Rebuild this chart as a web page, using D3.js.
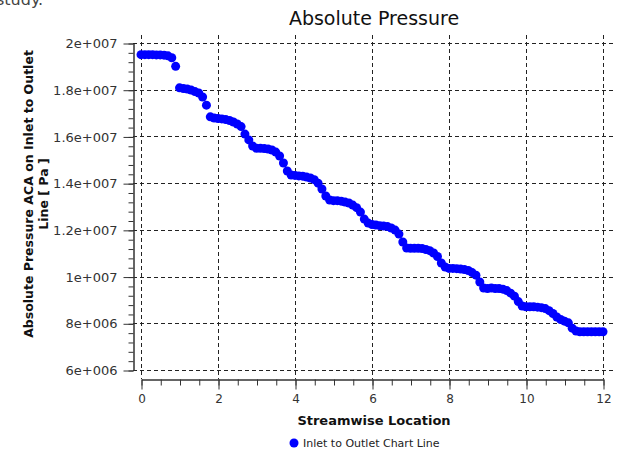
<!DOCTYPE html>
<html><head><meta charset="utf-8">
<script src="https://cdn.jsdelivr.net/npm/d3@7"></script>
<style>html,body{margin:0;padding:0;background:#fff;}svg{display:block;}</style>
</head><body>
<svg id="chart" width="617" height="452"></svg>
<script>
// ---- data ----
const location_ = [0.0,0.1,0.2,0.3,0.4,0.5,0.6,0.7,0.8,0.9,
  1.0,1.1,1.2,1.3,1.4,1.5,1.6,1.7,1.8,1.9,
  2.0,2.1,2.2,2.3,2.4,2.5,2.6,2.7,2.8,2.9,
  3.0,3.1,3.2,3.3,3.4,3.5,3.6,3.7,3.8,3.9,
  4.0,4.1,4.2,4.3,4.4,4.5,4.6,4.7,4.8,4.9,
  5.0,5.1,5.2,5.3,5.4,5.5,5.6,5.7,5.8,5.9,
  6.0,6.1,6.2,6.3,6.4,6.5,6.6,6.7,6.8,6.9,
  7.0,7.1,7.2,7.3,7.4,7.5,7.6,7.7,7.8,7.9,
  8.0,8.1,8.2,8.3,8.4,8.5,8.6,8.7,8.8,8.9,
  9.0,9.1,9.2,9.3,9.4,9.5,9.6,9.7,9.8,9.9,
  10.0,10.1,10.2,10.3,10.4,10.5,10.6,10.7,10.8,10.9,
  11.0,11.1,11.2,11.3,11.4,11.5,11.6,11.7,11.8,11.9,12.0];
const pressure = [1.950e7,1.950e7,1.950e7,1.950e7,1.949e7,1.949e7,1.948e7,1.945e7,1.937e7,1.900e7,
  1.808e7,1.805e7,1.803e7,1.799e7,1.792e7,1.786e7,1.769e7,1.734e7,1.684e7,1.679e7,
  1.677e7,1.675e7,1.672e7,1.668e7,1.662e7,1.653e7,1.642e7,1.610e7,1.585e7,1.559e7,
  1.549e7,1.549e7,1.548e7,1.546e7,1.542e7,1.533e7,1.516e7,1.486e7,1.452e7,1.435e7,
  1.433e7,1.431e7,1.430e7,1.426e7,1.422e7,1.415e7,1.400e7,1.375e7,1.345e7,1.328e7,
  1.325e7,1.325e7,1.323e7,1.319e7,1.315e7,1.306e7,1.295e7,1.276e7,1.246e7,1.229e7,
  1.223e7,1.221e7,1.218e7,1.216e7,1.214e7,1.208e7,1.199e7,1.182e7,1.148e7,1.122e7,
  1.121e7,1.121e7,1.121e7,1.120e7,1.116e7,1.111e7,1.101e7,1.086e7,1.058e7,1.041e7,
  1.035e7,1.035e7,1.034e7,1.032e7,1.030e7,1.026e7,1.017e7,1.006e7,0.977e7,0.951e7,
  0.949e7,0.951e7,0.949e7,0.949e7,0.946e7,0.940e7,0.929e7,0.916e7,0.893e7,0.874e7,
  0.871e7,0.871e7,0.871e7,0.869e7,0.867e7,0.863e7,0.854e7,0.842e7,0.827e7,0.816e7,
  0.809e7,0.802e7,0.779e7,0.767e7,0.764e7,0.764e7,0.764e7,0.764e7,0.764e7,0.764e7,0.764e7];
const xTicks = [0,2,4,6,8,10,12];
const xTickLabels = ["0","2","4","6","8","10","12"];
const yTicks = [6e6,8e6,1e7,1.2e7,1.4e7,1.6e7,1.8e7,2e7];
const yTickLabels = ["6e+006","8e+006","1e+007","1.2e+007","1.4e+007","1.6e+007","1.8e+007","2e+007"];
const titleText = "Absolute Pressure";
const xTitle = "Streamwise Location";
const yTitleLines = ["Absolute Pressure ACA on Inlet to Outlet","Line [ Pa ]"];
const seriesName = "Inlet to Outlet Chart Line";

// ---- layout ----
const svg = d3.select("#chart");
const font = "DejaVu Sans, Verdana, sans-serif";
const x = d3.scaleLinear().domain([0,12]).range([141,603]);
const y = d3.scaleLinear().domain([6e6,2e7]).range([370,43]);
const yAxisX = 133, xAxisY = 379;
const gridRight = 613, gridTop = 35;

// clipped text from page above
svg.append("text").attr("x",-4).attr("y",5).attr("font-family",font)
  .attr("font-size",16).attr("fill","#444").text("study.");

// title
svg.append("text").attr("x",374).attr("y",25).attr("text-anchor","middle")
  .attr("font-family",font).attr("font-size",19).attr("fill","#111").text(titleText);

// grid
const grid = svg.append("g").attr("stroke","#222").attr("stroke-width",1).attr("stroke-dasharray","4,3");
grid.selectAll("line.h").data(yTicks).join("line").attr("class","h")
  .attr("x1",yAxisX).attr("x2",gridRight)
  .attr("y1",d=>Math.round(y(d))+0.5).attr("y2",d=>Math.round(y(d))+0.5);
grid.selectAll("line.v").data(xTicks).join("line").attr("class","v")
  .attr("x1",d=>Math.round(x(d))+0.5).attr("x2",d=>Math.round(x(d))+0.5)
  .attr("y1",gridTop).attr("y2",xAxisY);

// y axis minor + major
const yMinor = d3.range(6e6, 2e7+1, 4e5);
svg.append("g").attr("transform",`translate(${yAxisX+0.5},0.5)`)
  .call(d3.axisLeft(y).tickValues(yMinor).tickSize(5).tickSizeOuter(0).tickFormat(""))
  .call(g=>g.selectAll("line,path").attr("stroke","#333"));
const yAx = svg.append("g").attr("transform",`translate(${yAxisX+0.5},0.5)`)
  .call(d3.axisLeft(y).tickValues(yTicks).tickSize(10).tickSizeOuter(0)
    .tickFormat((d,i)=>yTickLabels[i]).tickPadding(6));
yAx.selectAll("line,path").attr("stroke","#333");
yAx.selectAll("text").attr("font-family",font).attr("font-size",13).attr("fill","#333");

// x axis minor + major
const xMinor = d3.range(0, 12.01, 0.5);
svg.append("g").attr("transform",`translate(0.5,${xAxisY+0.5})`)
  .call(d3.axisBottom(x).tickValues(xMinor).tickSize(6).tickSizeOuter(0).tickFormat(""))
  .call(g=>g.selectAll("line,path").attr("stroke","#333"));
const xAx = svg.append("g").attr("transform",`translate(0.5,${xAxisY+0.5})`)
  .call(d3.axisBottom(x).tickValues(xTicks).tickSize(10).tickSizeOuter(0)
    .tickFormat((d,i)=>xTickLabels[i]).tickPadding(5));
xAx.selectAll("line,path").attr("stroke","#333");
xAx.selectAll("text").attr("font-family",font).attr("font-size",12).attr("fill","#333");

// axis titles
svg.append("text").attr("x",374).attr("y",425).attr("text-anchor","middle")
  .attr("font-family",font).attr("font-size",13).attr("font-weight","bold").attr("fill","#111").text(xTitle);
const yt = svg.append("text").attr("transform","translate(33,194) rotate(-90)")
  .attr("text-anchor","middle").attr("font-family",font).attr("font-size",12.5)
  .attr("font-weight","bold").attr("fill","#111");
yt.append("tspan").attr("x",0).attr("y",0).text(yTitleLines[0]);
yt.append("tspan").attr("x",0).attr("y",14.5).text(yTitleLines[1]);

// points
const pts = location_.map((d,i)=>({x:d,y:pressure[i]}));
svg.append("g").selectAll("circle").data(pts).join("circle")
  .attr("cx",d=>x(d.x)).attr("cy",d=>y(d.y)).attr("r",4.5).attr("fill","#0000ff");

// legend
svg.append("circle").attr("cx",294).attr("cy",443).attr("r",4.5).attr("fill","#0000ff");
svg.append("text").attr("x",303).attr("y",447).attr("font-family",font).attr("font-size",11)
  .attr("fill","#222").text(seriesName);
</script>
</body></html>
